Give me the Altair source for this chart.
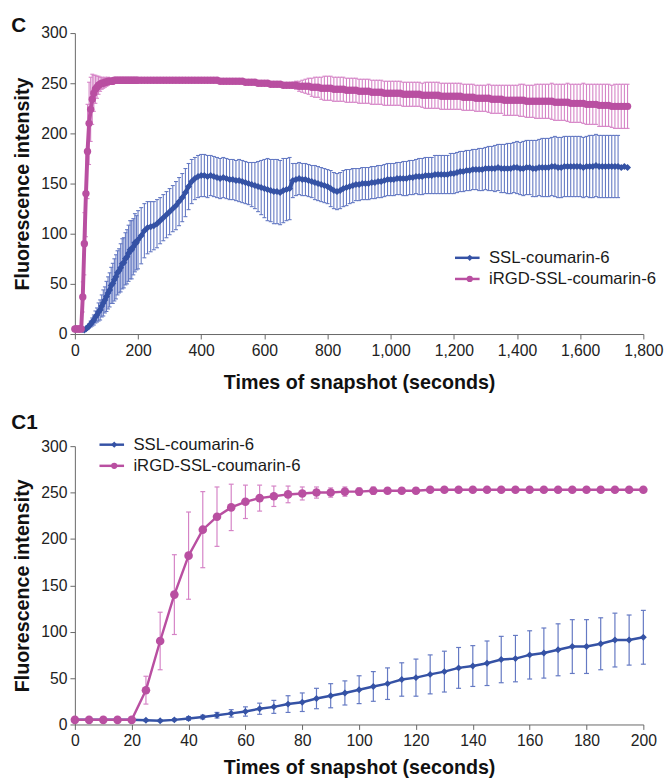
import altair as alt
import pandas as pd

FONT = "Liberation Sans"
SERIES = ["SSL-coumarin-6", "iRGD-SSL-coumarin-6"]
PT_KEYS = ["pt-" + s for s in SERIES]
EB_KEYS = ["eb-" + s for s in SERIES]
LINE_COLORS = ["#3552a5", "#b94fa1"]
BAR_COLORS = ["#6479c3", "#d583c6"]
SHAPES = ["diamond", "circle"]

# ---- first 200 s, every 5 s (panel C1, also start of panel C) ----
t_early = list(range(0, 201, 5))
ssl_early = [5, 5, 5, 5, 5,
             4.5, 4, 5, 6.5, 8, 10, 12, 14, 17, 19,
             22, 24, 28, 31, 34, 37.5, 41, 44, 48.5, 50.5,
             54, 57, 61, 63, 66, 70, 71, 75, 77, 80.5,
             84, 84, 87, 91, 91, 94]
ssl_early_sd = [0, 0, 0, 0, 0,
                1, 1, 1, 2, 2, 3, 4, 5, 6, 7,
                9, 10, 11, 13, 13, 15, 16, 17, 18, 20,
                21, 22, 22, 22, 24, 25, 25, 26, 27, 28,
                29, 29, 28, 29, 27, 29]
irgd_early = [5, 5, 5, 5, 5,
              37, 90, 140, 182, 210, 224, 234, 240, 244, 246,
              248, 249, 250, 250, 251, 251, 252, 252, 252, 252,
              253, 253, 253, 253, 253, 253, 253, 253, 253, 253,
              253, 253, 253, 253, 253, 253]
irgd_early_sd = [0, 0, 0, 0, 0,
                 15, 31, 43, 47, 41, 32, 25, 18, 14, 11,
                 9, 7, 6, 5, 5, 4, 4, 3, 3, 3,
                 2, 2, 2, 2, 2, 2, 2, 2, 2, 2,
                 2, 2, 2, 2, 2, 2]

# ---- 210 s to 1750 s, every 10 s (panel C) ----
t_late = list(range(210, 1751, 10))
ssl_late = [98, 103, 106, 107, 108, 110, 113, 116, 119, 122,
            125, 128, 132, 136, 141, 147, 152, 155, 157, 158,
            158, 157, 158, 157, 156, 155, 156, 155, 154, 154,
            153, 153, 152, 151, 150, 149, 148, 147, 146, 145,
            144, 143, 142, 142, 141, 143, 144, 145, 153, 154,
            155, 154, 154, 153, 152, 151, 150, 149, 148, 147,
            145, 143, 142, 143, 145, 146, 147, 148, 149, 149,
            150, 150, 150, 151, 151, 152, 152, 153, 154, 154,
            154, 155, 155, 155, 155, 156, 156, 157, 157, 157,
            158, 158, 158, 159, 159, 159, 159, 159, 160, 160,
            161, 162, 162, 163, 163, 164, 164, 164, 164, 165,
            165, 165, 165, 166, 165, 165, 165, 165, 166, 166,
            165, 165, 166, 166, 165, 165, 166, 166, 166, 166,
            167, 167, 166, 166, 167, 167, 167, 167, 167, 167,
            166, 167, 167, 167, 168, 167, 167, 167, 167, 167,
            167, 167, 166, 167, 166]
ssl_late_sd = [28, 27, 26, 25, 24, 24, 23, 23, 23, 23,
               23, 24, 24, 24, 24, 23, 22, 21, 21, 21,
               21, 21, 20, 20, 20, 20, 20, 20, 20, 20,
               20, 21, 21, 21, 21, 22, 23, 25, 27, 29,
               31, 31, 32, 32, 32, 32, 31, 31, 17, 16,
               16, 16, 16, 16, 16, 17, 17, 17, 17, 17,
               18, 18, 18, 18, 18, 18, 17, 17, 16, 16,
               16, 16, 16, 16, 16, 16, 16, 16, 16, 16,
               16, 16, 16, 17, 17, 17, 17, 17, 18, 18,
               18, 18, 18, 19, 19, 19, 19, 19, 20, 20,
               20, 20, 20, 20, 20, 20, 20, 21, 21, 21,
               22, 22, 23, 23, 24, 24, 25, 25, 25, 26,
               26, 27, 27, 27, 28, 28, 28, 29, 29, 29,
               29, 30, 30, 30, 30, 30, 30, 30, 30, 30,
               30, 30, 31, 31, 31, 31, 31, 31, 31, 31,
               31, 31, 0, 0, 0]
irgd_late = [253, 253, 253, 253, 253, 253, 253, 253, 253, 253,
             253, 253, 253, 253, 253, 253, 253, 253, 253, 253,
             253, 253, 253, 253, 253, 252, 252, 252, 252, 252,
             252, 252, 252, 251, 251, 251, 251, 250, 250, 250,
             250, 249, 249, 249, 249, 248, 248, 248, 248, 248,
             247, 247, 247, 247, 246, 246, 246, 245, 245, 245,
             245, 244, 244, 244, 244, 243, 243, 243, 243, 242,
             242, 242, 242, 241, 241, 241, 241, 240, 240, 240,
             240, 240, 240, 239, 239, 239, 239, 239, 239, 238,
             238, 238, 238, 238, 238, 237, 237, 237, 237, 237,
             237, 237, 236, 236, 236, 236, 235, 235, 235, 235,
             235, 234, 234, 234, 234, 233, 233, 233, 233, 233,
             233, 233, 232, 232, 232, 232, 232, 232, 232, 232,
             232, 231, 231, 231, 231, 231, 230, 230, 230, 230,
             230, 229, 229, 229, 229, 228, 228, 228, 228, 227,
             227, 227, 227, 227, 227]
irgd_late_sd = [2, 2, 2, 2, 2, 2, 2, 2, 2, 2,
                2, 2, 2, 2, 2, 2, 2, 2, 2, 2,
                2, 2, 2, 2, 2, 2, 2, 2, 2, 2,
                2, 2, 2, 2, 2, 2, 2, 2, 2, 2,
                2, 2, 2, 2, 2, 2, 2, 2, 3, 4,
                5, 6, 7, 8, 9, 10, 10, 11, 12, 12,
                12, 12, 12, 12, 12, 12, 12, 12, 12, 12,
                12, 12, 12, 12, 12, 12, 12, 12, 12, 12,
                12, 12, 12, 12, 12, 12, 12, 12, 12, 12,
                13, 13, 13, 13, 13, 13, 13, 13, 13, 13,
                13, 13, 13, 13, 13, 13, 13, 13, 13, 13,
                14, 14, 14, 14, 14, 15, 15, 15, 15, 15,
                16, 16, 16, 16, 16, 17, 17, 17, 17, 17,
                18, 18, 18, 18, 18, 19, 19, 19, 19, 19,
                20, 20, 20, 20, 20, 21, 21, 21, 21, 21,
                22, 22, 22, 22, 22]


def build(t, ssl, ssl_sd, irgd, irgd_sd):
    rows = []
    for i, (mean, sd) in enumerate(((ssl, ssl_sd), (irgd, irgd_sd))):
        for ti, m, s in zip(t, mean, sd):
            rows.append({"t": ti, "v": m, "sd": s, "lo": m - s, "hi": m + s,
                         "series": SERIES[i], "series_pt": PT_KEYS[i],
                         "series_eb": EB_KEYS[i]})
    return pd.DataFrame(rows)


df_c = build(t_early + t_late, ssl_early + ssl_late, ssl_early_sd + ssl_late_sd,
             irgd_early + irgd_late, irgd_early_sd + irgd_late_sd)
df_c1 = build(t_early, ssl_early, ssl_early_sd, irgd_early, irgd_early_sd)


def panel(df, xmax, xstep, xfmt, w, h, lw, dsize, csize, cap, ebw,
          leg_x, leg_y, lab_off, title_text, title_dx, title_off, xlabpad, xtitlepad):
    xaxis = alt.Axis(values=list(range(0, xmax + 1, xstep)), format=xfmt,
                     title="Times of snapshot (seconds)", labelFlush=False,
                     labelOverlap=False, labelPadding=xlabpad, titlePadding=xtitlepad)
    yaxis = alt.Axis(values=[0, 50, 100, 150, 200, 250, 300],
                     title="Fluorescence intensity", labelPadding=3, titlePadding=8)
    xs = alt.Scale(domain=[0, xmax], nice=False)
    ys = alt.Scale(domain=[0, 300], nice=False)
    X = alt.X("t:Q", scale=xs, axis=xaxis)
    base = alt.Chart(df)
    ebs = alt.Stroke("series_eb:N", scale=alt.Scale(domain=EB_KEYS, range=BAR_COLORS), legend=None)
    eb = base.transform_filter("datum.sd > 0")
    bars = eb.mark_rule(strokeWidth=ebw).encode(
        x=X, y=alt.Y("lo:Q", scale=ys, axis=yaxis), y2="hi:Q", stroke=ebs)
    cap_hi = eb.mark_rule(strokeWidth=ebw, xOffset=-cap, x2Offset=cap).encode(
        x=X, x2="t:Q", y=alt.Y("hi:Q", scale=ys, axis=yaxis), stroke=ebs)
    cap_lo = eb.mark_rule(strokeWidth=ebw, xOffset=-cap, x2Offset=cap).encode(
        x=X, x2="t:Q", y=alt.Y("lo:Q", scale=ys, axis=yaxis), stroke=ebs)

    line_legend = alt.Legend(title=None, orient="none", legendX=leg_x, legendY=leg_y,
                             symbolType="M-2,0L2,0", symbolSize=156, symbolStrokeWidth=2.5,
                             labelFontSize=17, labelFont=FONT, labelColor="#1a1a1a",
                             labelLimit=400, labelOffset=lab_off, rowPadding=3.5, padding=0)
    lines = base.mark_line(strokeWidth=lw).encode(
        x=X, y=alt.Y("v:Q", scale=ys, axis=yaxis),
        color=alt.Color("series:N", scale=alt.Scale(domain=SERIES, range=LINE_COLORS),
                        legend=line_legend))

    pt_legend = alt.Legend(title=None, orient="none", legendX=leg_x + 2.5, legendY=leg_y,
                           symbolSize=40, symbolStrokeWidth=0, symbolOpacity=1,
                           labelFontSize=17, labelFont=FONT, labelExpr="''",
                           rowPadding=3.5, padding=0)
    fill = alt.Fill("series_pt:N", scale=alt.Scale(domain=PT_KEYS, range=LINE_COLORS), legend=pt_legend)
    shape = alt.Shape("series_pt:N", scale=alt.Scale(domain=PT_KEYS, range=SHAPES), legend=pt_legend)
    pts = []
    for key, size in ((PT_KEYS[0], dsize), (PT_KEYS[1], csize)):
        pts.append(base.transform_filter(alt.datum.series_pt == key)
                   .mark_point(filled=True, opacity=1, size=size, strokeWidth=0)
                   .encode(x=X, y=alt.Y("v:Q", scale=ys, axis=yaxis), fill=fill, shape=shape))

    return alt.layer(bars, cap_hi, cap_lo, lines, *pts).properties(
        width=w, height=h,
        title=alt.Title(title_text, anchor="start", frame="bounds", fontSize=21,
                        fontWeight="bold", font=FONT, color="#111", dx=title_dx,
                        offset=title_off))


top = panel(df_c, 1800, 200, ",.0f", 578, 306, 4, 50, 56, 2, 1.1,
            390.5, 220, 13.5, "C", -2, -10.5, 4, 14)
bottom = panel(df_c1, 200, 20, "d", 578, 283, 2.5, 49, 76, 2.5, 1.2,
               29, -10, 13.5, "C1", -2, 3, 3, 10)

chart = alt.vconcat(top, bottom, spacing=21).resolve_scale(
    color="independent", fill="independent", shape="independent", stroke="independent"
).resolve_legend(
    color="independent", fill="independent", shape="independent", stroke="independent"
).properties(
    padding={"left": 3, "top": 0, "right": 0, "bottom": 0}
).configure_view(stroke=None).configure_axis(
    grid=False, domainColor="#666", tickColor="#666", tickSize=5,
    labelFont=FONT, titleFont=FONT, labelFontSize=16, titleFontSize=20,
    titleFontWeight="bold", labelColor="#222", titleColor="#111"
)

chart.save("out.html", embed_options={"renderer": "svg", "actions": False})
